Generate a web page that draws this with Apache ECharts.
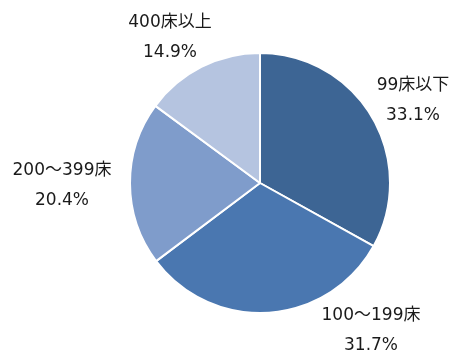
<!DOCTYPE html>
<html><head><meta charset="utf-8">
<script src="https://cdn.jsdelivr.net/npm/echarts@6/dist/echarts.min.js"></script>
<style>html,body{margin:0;padding:0;background:#fff}#c{width:466px;height:360px}</style>
</head><body><div id="c"></div>
<script>
const categories = ['99床以下', '100～199床', '200～399床', '400床以上'];
const values = [33.1, 31.7, 20.4, 14.9];
const colors = ['#3D6594', '#4A77B0', '#7F9CCB', '#B5C4E0'];
const labelPos = [[413, 100], [371, 330], [62, 185], [170, 37]];

const chart = echarts.init(document.getElementById('c'));
chart.setOption({
  animation: false,
  series: [{
    type: 'pie',
    center: [260, 183],
    radius: 130,
    startAngle: 90,
    clockwise: true,
    data: categories.map((n, i) => ({ name: n, value: values[i], itemStyle: { color: colors[i] } })),
    itemStyle: { borderColor: '#fff', borderWidth: 2 },
    label: {
      show: true,
      position: 'inside',
      formatter: p => p.name + '\n' + p.value.toFixed(1) + '%',
      fontFamily: '"DejaVu Sans", "Noto Sans CJK JP", sans-serif',
      fontSize: 17,
      lineHeight: 30,
      color: '#1a1a1a',
      align: 'center',
      overflow: 'none'
    },
    labelLine: { show: false },
    labelLayout: p => ({ x: labelPos[p.dataIndex][0], y: labelPos[p.dataIndex][1] + 1, align: 'center', verticalAlign: 'middle' })
  }]
});
</script></body></html>
